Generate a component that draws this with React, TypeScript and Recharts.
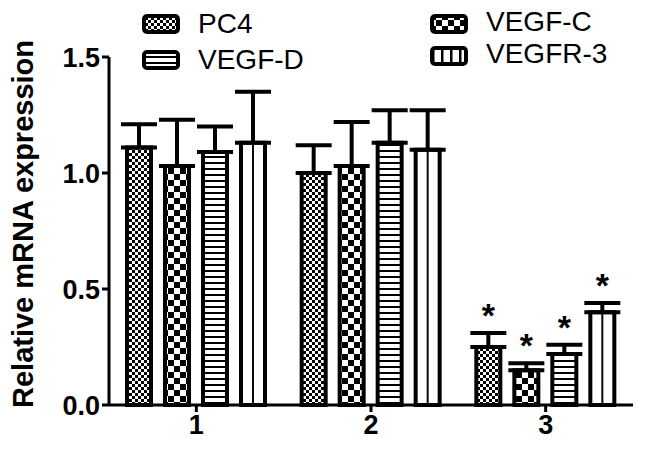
import { BarChart, Bar, XAxis, YAxis, ErrorBar, LabelList } from 'recharts';

const groups = ['1', '2', '3'];
const pc4 = [1.11, 1.0, 0.25];
const pc4Sd = [0.1, 0.12, 0.06];
const vegfC = [1.03, 1.03, 0.15];
const vegfCSd = [0.2, 0.19, 0.03];
const vegfD = [1.09, 1.13, 0.22];
const vegfDSd = [0.11, 0.14, 0.04];
const vegfr3 = [1.13, 1.1, 0.4];
const vegfr3Sd = [0.22, 0.17, 0.04];
const significant = [false, false, true];
const yTicks = [0, 0.5, 1.0, 1.5];

const data = groups.map((g, i) => ({
  group: g,
  pc4: pc4[i],
  pc4Err: [0, pc4Sd[i]],
  vegfC: vegfC[i],
  vegfCErr: [0, vegfCSd[i]],
  vegfD: vegfD[i],
  vegfDErr: [0, vegfDSd[i]],
  vegfr3: vegfr3[i],
  vegfr3Err: [0, vegfr3Sd[i]],
}));

const font = '"Liberation Sans", Arial, sans-serif';

const starLabel = (values: number[], sds: number[]) => (props: any) => {
  const { x, y, width, height, value } = props;
  let index = props.index;
  if (index === undefined) index = values.indexOf(Number(value));
  if (index < 0 || !significant[index]) return null;
  const pxPerUnit = Number(height) / Number(value);
  const top = Number(y) - sds[index] * pxPerUnit;
  return (
    <text x={Number(x) + Number(width) / 2} y={top - 6} textAnchor="middle" fontSize={34} fontWeight="bold" fontFamily={font} fill="#000">
      *
    </text>
  );
};

const legendItems = [
  { label: 'PC4', fill: 'url(#fineCheck)', left: 142, top: 14, textTop: 9 },
  { label: 'VEGF-D', fill: 'url(#hLines)', left: 142, top: 50, textTop: 45 },
  { label: 'VEGF-C', fill: 'url(#bigCheck)', left: 430, top: 14, textTop: 7 },
  { label: 'VEGFR-3', fill: 'url(#vLinesLegend)', left: 430, top: 46, textTop: 39 },
];

export default function App() {
  return (
    <div style={{ position: 'absolute', left: 0, top: 0, width: 650, height: 451, background: '#fff', fontFamily: font }}>
      <BarChart width={650} height={451} data={data} margin={{ top: 57, right: 17, bottom: 6, left: 0 }} barSize={24} barGap={14}>
        <defs>
          <pattern id="fineCheck" width="6" height="6" patternUnits="userSpaceOnUse">
            <rect width="6" height="6" fill="#fff" />
            <rect x="0" y="0" width="3" height="3" fill="#000" />
            <rect x="3" y="3" width="3" height="3" fill="#000" />
          </pattern>
          <pattern id="bigCheck" width="12" height="12" patternUnits="userSpaceOnUse">
            <rect width="12" height="12" fill="#fff" />
            <rect x="0" y="0" width="6" height="6" fill="#000" />
            <rect x="6" y="6" width="6" height="6" fill="#000" />
          </pattern>
          <pattern id="hLines" width="6" height="6" patternUnits="userSpaceOnUse">
            <rect width="6" height="6" fill="#fff" />
            <rect x="0" y="0" width="6" height="2" fill="#000" />
          </pattern>
          <pattern id="vLines" width="1" height="1" patternUnits="objectBoundingBox" patternContentUnits="objectBoundingBox">
            <rect width="1" height="1" fill="#fff" />
            <rect x="0.46" y="0" width="0.08" height="1" fill="#000" />
          </pattern>
          <pattern id="vLinesLegend" width="9" height="9" patternUnits="userSpaceOnUse" x="2">
            <rect width="9" height="9" fill="#fff" />
            <rect x="0" y="0" width="2.5" height="9" fill="#000" />
          </pattern>
        </defs>
        <XAxis
          dataKey="group"
          height={40}
          axisLine={{ stroke: '#000', strokeWidth: 3 }}
          tickLine={{ stroke: '#000', strokeWidth: 3 }}
          tickSize={7}
          tickMargin={3}
          tick={{ fill: '#000', fontSize: 27, fontWeight: 'bold', fontFamily: font }}
        />
        <YAxis
          width={109}
          domain={[0, 1.5]}
          ticks={yTicks}
          tickFormatter={(v: number) => v.toFixed(1)}
          axisLine={{ stroke: '#000', strokeWidth: 3 }}
          tickLine={{ stroke: '#000', strokeWidth: 3 }}
          tickSize={7}
          tickMargin={2}
          tick={{ fill: '#000', fontSize: 27, fontWeight: 'bold', fontFamily: font }}
          label={{
            content: () => (
              <text x={33} y={224} transform="rotate(-90, 33, 224)" textAnchor="middle" fontSize={29} fontWeight="bold" fontFamily={font} fill="#000">
                Relative mRNA expression
              </text>
            ),
          }}
        />
        <Bar dataKey="pc4" fill="url(#fineCheck)" stroke="#000" strokeWidth={4} isAnimationActive={false}>
          <ErrorBar dataKey="pc4Err" width={18} strokeWidth={4} stroke="#000" direction="y" />
          <LabelList dataKey="pc4" content={starLabel(pc4, pc4Sd)} />
        </Bar>
        <Bar dataKey="vegfC" fill="url(#bigCheck)" stroke="#000" strokeWidth={4} isAnimationActive={false}>
          <ErrorBar dataKey="vegfCErr" width={18} strokeWidth={4} stroke="#000" direction="y" />
          <LabelList dataKey="vegfC" content={starLabel(vegfC, vegfCSd)} />
        </Bar>
        <Bar dataKey="vegfD" fill="url(#hLines)" stroke="#000" strokeWidth={4} isAnimationActive={false}>
          <ErrorBar dataKey="vegfDErr" width={18} strokeWidth={4} stroke="#000" direction="y" />
          <LabelList dataKey="vegfD" content={starLabel(vegfD, vegfDSd)} />
        </Bar>
        <Bar dataKey="vegfr3" fill="url(#vLines)" stroke="#000" strokeWidth={4} isAnimationActive={false}>
          <ErrorBar dataKey="vegfr3Err" width={18} strokeWidth={4} stroke="#000" direction="y" />
          <LabelList dataKey="vegfr3" content={starLabel(vegfr3, vegfr3Sd)} />
        </Bar>
      </BarChart>
      {legendItems.map((item) => (
        <div key={item.label}>
          <svg width={40} height={22} style={{ position: 'absolute', left: item.left, top: item.top }}>
            <rect x={2} y={2} width={34} height={16} rx={3} fill={item.fill} stroke="#000" strokeWidth={4} />
          </svg>
          <div style={{ position: 'absolute', left: item.left + 56, top: item.textTop, fontSize: 28, lineHeight: '30px', color: '#000' }}>
            {item.label}
          </div>
        </div>
      ))}
    </div>
  );
}
